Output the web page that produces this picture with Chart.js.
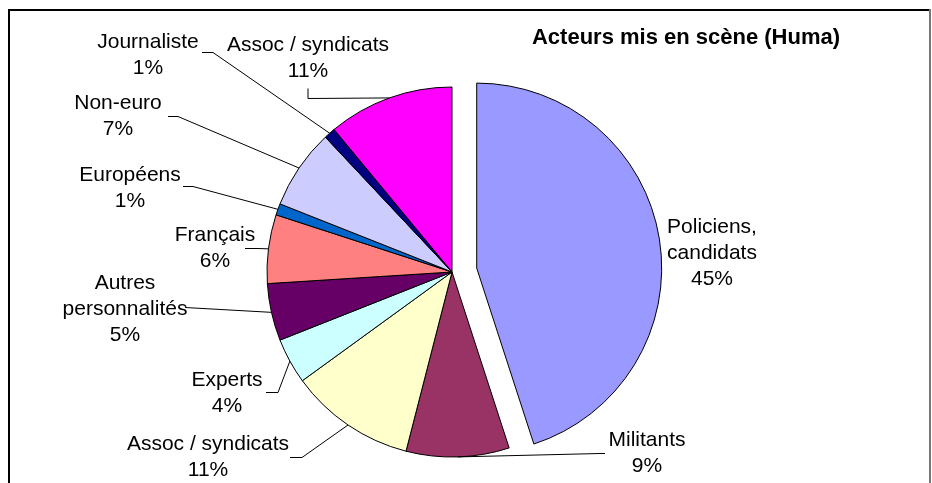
<!DOCTYPE html>
<html><head><meta charset="utf-8">
<script src="https://cdn.jsdelivr.net/npm/chart.js@4/dist/chart.umd.min.js"></script>
<style>html,body{margin:0;padding:0;background:#fff}#wrap{position:relative;width:932px;height:483px}</style>
</head><body><div id="wrap"><canvas id="c"></canvas></div>
<script>
const chartTitle = 'Acteurs mis en scène (Huma)';
const categories = ['Policiens, candidats','Militants','Assoc / syndicats','Experts','Autres personnalités','Français','Européens','Non-euro','Journaliste','Assoc / syndicats'];
const labelLines = [['Policiens,','candidats'],['Militants'],['Assoc / syndicats'],['Experts'],['Autres','personnalités'],['Français'],['Européens'],['Non-euro'],['Journaliste'],['Assoc / syndicats']];
const shares = [45,9,11,4,5,6,1,7,1,11];
const colors = ['#9999FF','#993366','#FFFFCC','#CCFFFF','#660066','#FF8080','#0066CC','#CCCCFF','#000080','#FF00FF'];
const explodedIndex = 0;

// label layout (text centre of first line) and leader-line elbows
const labelPos = [[712,227],[647,440],[208,444],[227,380],[125,283],[215,235],[130,175],[118,103],[148,42],[308,45]];
const leaderElbows = [null,[[605,453],[600,453]],[[290,457],[302,457]],[[266,392],[278,392]],[[185,307]],[[245,248],[257,248]],[[183,186],[193,186]],[[168,116],[178,116]],[[202,52],[213,52]],[[308,88],[308,98]]];

const FONT = '"Liberation Sans", Arial, sans-serif';
const LINE_H = 26;

const framePlugin = {
  id: 'frame',
  beforeDraw(chart) {
    const ctx = chart.ctx;
    ctx.save();
    ctx.fillStyle = '#fff';
    ctx.fillRect(0, 0, chart.width, chart.height);
    ctx.fillStyle = '#000';
    ctx.fillRect(8, 9, 922, 2);
    ctx.fillRect(8, 9, 2, chart.height);
    ctx.fillStyle = '#777';
    ctx.fillRect(929, 9, 2, chart.height);
    ctx.restore();
  }
};

const explodePlugin = {
  id: 'explode',
  afterDatasetsUpdate(chart) {
    const el = chart.getDatasetMeta(0).data[explodedIndex];
    const mid = (el.startAngle + el.endAngle) / 2;
    el.x += Math.cos(mid) * 25;
    el.y += Math.sin(mid) * 25;
  }
};

const labelPlugin = {
  id: 'labels',
  afterDatasetsDraw(chart) {
    const ctx = chart.ctx;
    const meta = chart.getDatasetMeta(0);
    ctx.save();
    // leaders
    ctx.strokeStyle = '#000';
    ctx.lineWidth = 1;
    meta.data.forEach((el, i) => {
      const elb = leaderElbows[i];
      if (!elb) return;
      const mid = (el.startAngle + el.endAngle) / 2;
      const ex = el.x + Math.cos(mid) * el.outerRadius;
      const ey = el.y + Math.sin(mid) * el.outerRadius;
      ctx.beginPath();
      ctx.moveTo(elb[0][0], elb[0][1] + 0.5);
      for (let k = 1; k < elb.length; k++) ctx.lineTo(elb[k][0], elb[k][1] + 0.5);
      ctx.lineTo(ex, ey);
      ctx.stroke();
    });
    // texts
    ctx.fillStyle = '#000';
    ctx.font = '21px ' + FONT;
    ctx.textAlign = 'center';
    ctx.textBaseline = 'middle';
    meta.data.forEach((el, i) => {
      const lines = labelLines[i].concat([shares[i] + '%']);
      const [x, y] = labelPos[i];
      lines.forEach((t, k) => ctx.fillText(t, x, y + k * LINE_H));
    });
    ctx.font = 'bold 22px ' + FONT;
    ctx.fillText(chartTitle, 686, 38);
    ctx.restore();
  }
};

new Chart(document.getElementById('c'), {
  type: 'pie',
  data: {
    labels: categories,
    datasets: [{
      data: shares,
      backgroundColor: colors,
      borderColor: '#000',
      borderWidth: 1
    }]
  },
  options: {
    responsive: true,
    maintainAspectRatio: false,
    animation: false,
    events: [],
    radius: 185,
    layout: { padding: { top: 61, right: 28, left: 0, bottom: 0 } },
    plugins: { legend: { display: false }, tooltip: { enabled: false }, title: { display: false } }
  },
  plugins: [framePlugin, explodePlugin, labelPlugin]
});
</script></body></html>
